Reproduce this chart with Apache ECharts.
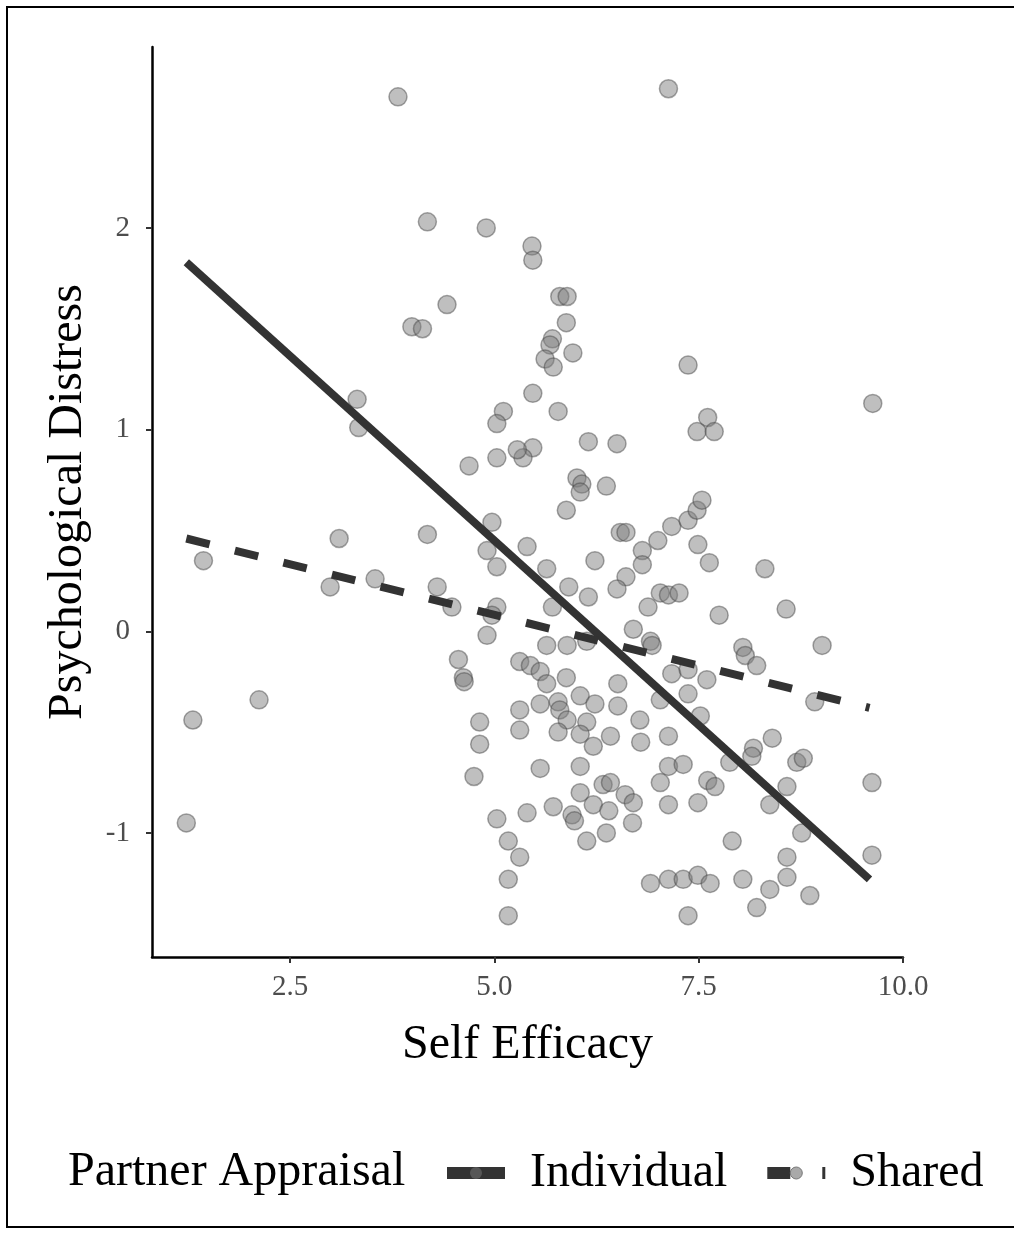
<!DOCTYPE html>
<html>
<head>
<meta charset="utf-8">
<script src="https://cdn.jsdelivr.net/npm/echarts@6/dist/echarts.min.js"></script>
<style>
html,body{margin:0;padding:0;background:#fff;}
#chart{width:1014px;height:1234px;}
</style>
</head>
<body>
<div id="chart"></div>
<script>
// Self efficacy (x) and psychological distress (y) of observed points
const selfEfficacy = [3.82,7.13,4.18,4.90,5.46,5.47,4.42,3.99,4.12,5.80,5.89,5.88,5.71,5.68,5.62,5.72,5.96,5.47,5.78,7.37,
  9.63,7.61,7.48,7.69,6.15,6.50,5.47,5.35,5.28,5.11,5.03,4.69,5.03,3.32,3.34,6.01,6.07,6.05,6.37,5.88,
  6.54,6.61,5.40,6.23,5.64,5.91,6.15,5.71,6.81,6.81,7.00,7.17,7.37,7.48,7.54,7.49,7.63,8.31,6.61,6.50,
  6.88,7.03,7.13,7.26,7.75,8.57,6.70,6.91,9.01,8.04,5.64,5.89,6.13,4.97,4.91,5.03,3.10,4.18,1.44,2.99,
  3.54,4.30,4.48,5.03,4.97,4.91,1.31,2.12,1.23,4.56,4.62,4.63,4.82,4.82,4.75,5.03,5.17,5.31,5.17,5.17,
  5.31,5.44,5.56,5.64,5.88,5.31,5.56,5.78,5.80,5.89,5.31,5.78,6.05,6.23,6.13,6.05,6.21,6.42,6.51,6.51,
  6.78,6.79,5.56,6.05,6.33,6.42,6.05,6.21,6.40,6.60,6.70,6.69,5.95,5.98,5.72,5.40,6.13,6.37,6.93,8.07,
  8.21,7.17,7.37,7.60,7.37,7.03,7.13,7.52,8.40,8.17,8.15,7.88,8.70,8.78,7.13,7.31,7.03,7.61,7.70,7.13,
  7.49,8.58,8.37,8.76,7.91,8.58,6.91,7.13,7.31,7.49,7.64,8.04,8.58,8.37,8.86,8.21,7.37,8.92,9.62,9.62];
const distress = [2.65,2.69,2.03,2.00,1.91,1.84,1.62,1.51,1.50,1.66,1.66,1.53,1.45,1.42,1.35,1.31,1.38,1.18,1.09,1.32,
  1.13,1.06,0.99,0.99,0.94,0.93,0.91,0.86,0.90,1.09,1.03,0.82,0.86,1.15,1.01,0.76,0.73,0.69,0.72,0.60,
  0.49,0.49,0.42,0.35,0.31,0.22,0.17,0.12,0.40,0.33,0.45,0.52,0.55,0.60,0.65,0.43,0.34,0.31,0.27,0.21,
  0.12,0.19,0.18,0.19,0.08,0.11,0.01,-0.05,-0.07,-0.08,-0.07,-0.07,-0.05,0.54,0.40,0.32,0.46,0.48,0.35,0.22,
  0.26,0.22,0.12,0.12,0.08,-0.02,-0.44,-0.34,-0.95,-0.14,-0.23,-0.25,-0.45,-0.56,-0.72,-0.93,-1.04,-1.12,-1.23,-1.41,
  -0.15,-0.17,-0.20,-0.26,-0.23,-0.39,-0.36,-0.35,-0.39,-0.44,-0.49,-0.50,-0.32,-0.36,-0.45,-0.51,-0.57,-0.52,-0.26,-0.37,
  -0.44,-0.55,-0.68,-0.67,-0.76,-0.75,-0.80,-0.86,-0.89,-0.81,-0.85,-0.95,-0.91,-0.94,-0.87,-0.90,-1.04,-1.00,-0.07,-0.12,
  -0.17,-0.21,-0.19,-0.24,-0.31,-0.34,-0.52,-0.42,-0.53,-0.58,-0.62,-0.65,-0.65,-0.63,-0.67,-0.66,-0.75,-0.74,-0.77,-0.86,
  -0.85,-0.77,-0.86,-1.00,-1.04,-1.12,-1.25,-1.23,-1.23,-1.21,-1.25,-1.23,-1.22,-1.28,-1.31,-1.37,-1.41,-0.35,-0.75,-1.11];

// Fitted lines (start/end)
const lineX = [1.23, 9.59];
const individualY = [1.83, -1.23];
const sharedY = [0.46, -0.38];

const xTicks = [2.5, 5.0, 7.5, 10.0];
const yTicks = [-1, 0, 1, 2];

const points = selfEfficacy.map((x, i) => [x, distress[i]]);
const indLine = lineX.map((x, i) => [x, individualY[i]]);
const shLine = lineX.map((x, i) => [x, sharedY[i]]);

const serif = 'Liberation Serif, Times New Roman, serif';
const chart = echarts.init(document.getElementById('chart'));
chart.setOption({
  animation: false,
  backgroundColor: '#fff',
  grid: {left: 152, right: 111, top: 47, bottom: 277, containLabel: false},
  xAxis: {
    type: 'value', min: 0.81, max: 10.0,
    name: 'Self Efficacy', nameLocation: 'middle', nameGap: 64,
    nameTextStyle: {fontFamily: serif, fontSize: 48, color: '#000'},
    axisLine: {show: true, onZero: false, lineStyle: {color: '#000', width: 2.5}},
    axisTick: {show: true, customValues: xTicks, length: 6, lineStyle: {color: '#333', width: 2}},
    axisLabel: {customValues: xTicks, margin: 16, fontFamily: serif, fontSize: 29, color: '#4d4d4d',
      formatter: v => v.toFixed(1)},
    splitLine: {show: false}
  },
  yAxis: {
    type: 'value', min: -1.615, max: 2.897,
    name: 'Psychological Distress', nameLocation: 'middle', nameGap: 60, nameRotate: 90,
    nameTextStyle: {fontFamily: serif, fontSize: 48, color: '#000'},
    axisLine: {show: true, onZero: false, lineStyle: {color: '#000', width: 2.5}},
    axisTick: {show: true, customValues: yTicks, length: 6, lineStyle: {color: '#333', width: 2}},
    axisLabel: {customValues: yTicks, margin: 22, fontFamily: serif, fontSize: 29, color: '#4d4d4d'},
    splitLine: {show: false}
  },
  legend: {
    data: [
      {name: 'Individual', lineStyle: {width: 12, type: 'solid', color: '#333'},
       itemStyle: {color: 'rgba(110,110,110,0.6)'}},
      {name: 'Shared', lineStyle: {width: 12, type: [23, 32], color: '#333'},
       itemStyle: {color: 'rgba(160,160,160,0.9)', borderColor: '#777', borderWidth: 1}}
    ],
    left: 441, top: 1149, padding: 0,
    itemWidth: 58, itemHeight: 15, itemGap: 34,
    textStyle: {fontFamily: serif, fontSize: 48, color: '#000', padding: [0, 0, 0, 20]}
  },
  graphic: [
    {type: 'rect', shape: {x: 7, y: 7, width: 1010, height: 1220},
     style: {fill: 'none', stroke: '#000', lineWidth: 2}, silent: true},
    {type: 'text', left: 68, top: 1148,
     style: {text: 'Partner Appraisal', font: '48px ' + serif, fill: '#000'}}
  ],
  series: [
    {
      type: 'scatter', name: 'points', data: points, symbolSize: 18, z: 2,
      itemStyle: {color: 'rgba(125,125,125,0.62)', borderColor: 'rgba(70,70,70,0.6)', borderWidth: 1.5}
    },
    {
      type: 'line', name: 'Individual', data: indLine, showSymbol: false, symbol: 'circle', z: 3,
      lineStyle: {color: '#333', width: 8, cap: 'butt'},
      itemStyle: {color: 'rgba(110,110,110,0.6)'}
    },
    {
      type: 'line', name: 'Shared', data: shLine, showSymbol: false, symbol: 'circle', z: 3,
      lineStyle: {color: '#333', width: 8, type: [24, 26], cap: 'butt'},
      itemStyle: {color: 'rgba(160,160,160,0.9)'}
    }
  ]
});
</script>
</body>
</html>
